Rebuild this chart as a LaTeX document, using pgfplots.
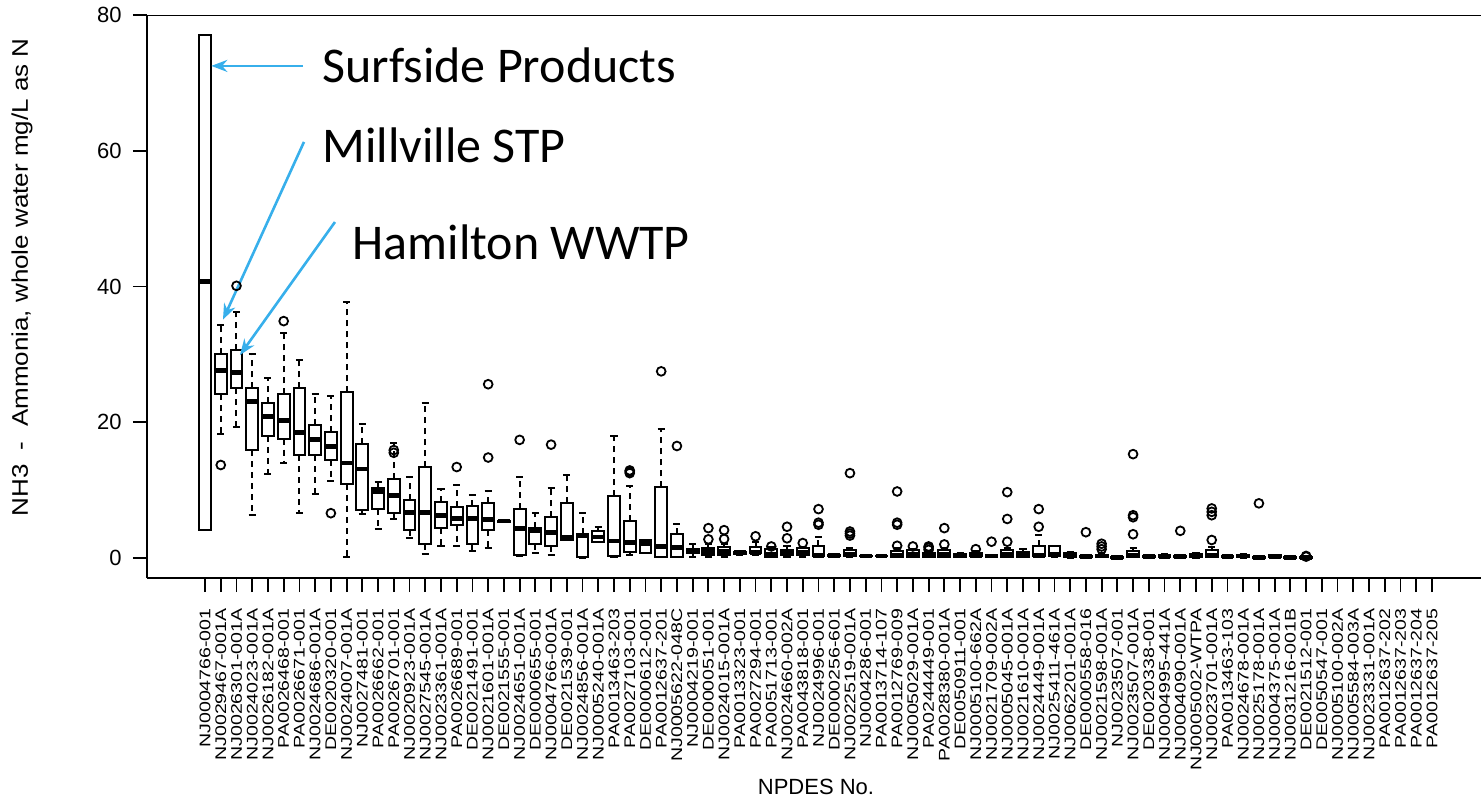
\documentclass[border=0pt]{standalone}
\usepackage{fontspec}
\setmainfont{Liberation Sans}
\newfontfamily\sfx[FakeStretch=1.27]{Liberation Sans}
\newfontfamily\sfy[FakeStretch=1.15]{Liberation Sans}
\newfontfamily\calib{Carlito}
\usepackage{pgfplots}
\pgfplotsset{compat=1.18}
\usepgfplotslibrary{statistics}
\usetikzlibrary{arrows.meta}
\definecolor{callout}{RGB}{55,175,235}

% draw position, lower whisker, lower quartile, median, upper quartile, upper whisker, outliers
\newcommand\bp[7]{\addplot[bx, boxplot prepared={draw position=#1, lower whisker=#2,
  lower quartile=#3, median=#4, upper quartile=#5, upper whisker=#6}] coordinates {#7};}

\begin{document}
\begin{tikzpicture}
\begin{axis}[
  scale only axis, width=667pt, height=281.5pt,
  xmin=-2.69, xmax=82.12, ymin=-2.95, ymax=80,
  axis x line*=bottom, axis y line*=left,
  axis line style={-, line width=1pt},
  tick align=outside, major tick length=7pt,
  tick style={black, line width=0.9pt},
  xtick={1,...,79},
  xticklabels={NJ0004766-001,NJ0029467-001A,NJ0026301-001A,NJ0024023-001A,NJ0026182-001A,
    PA0026468-001,PA0026671-001,NJ0024686-001A,DE0020320-001,NJ0024007-001A,
    NJ0027481-001,PA0026662-001,PA0026701-001,NJ0020923-001A,NJ0027545-001A,
    NJ0023361-001A,PA0026689-001,DE0021491-001,NJ0021601-001A,DE0021555-001,
    NJ0024651-001A,DE0000655-001,NJ0004766-001A,DE0021539-001,NJ0024856-001A,
    NJ0005240-001A,PA0013463-203,PA0027103-001,DE0000612-001,PA0012637-201,
    NJ0005622-048C,NJ0004219-001,DE0000051-001,NJ0024015-001A,PA0013323-001,
    PA0027294-001,PA0051713-001,NJ0024660-002A,PA0043818-001,NJ0024996-001,
    DE0000256-601,NJ0022519-001A,NJ0004286-001,PA0013714-107,PA0012769-009,
    NJ0005029-001A,PA0244449-001,PA0028380-001A,DE0050911-001,NJ0005100-662A,
    NJ0021709-002A,NJ0005045-001A,NJ0021610-001A,NJ0024449-001A,NJ0025411-461A,
    NJ0062201-001A,DE0000558-016,NJ0021598-001A,NJ0023507-001,NJ0023507-001A,
    DE0020338-001,NJ0004995-441A,NJ0004090-001A,NJ0005002-WTPA,NJ0023701-001A,
    PA0013463-103,NJ0024678-001A,NJ0025178-001A,NJ0004375-001A,NJ0031216-001B,
    DE0021512-001,DE0050547-001,NJ0005100-002A,NJ0005584-003A,NJ0023331-001A,
    PA0012637-202,PA0012637-203,PA0012637-204,PA0012637-205},
  xticklabel style={rotate=90, anchor=east, inner sep=0pt, font=\sfx\fontsize{7.7}{8}\selectfont},
  xticklabel shift=8pt,
  ytick={0,20,40,60,80},
  yticklabels={0,20,40,60,80},
  yticklabel style={anchor=east, inner sep=0pt, font=\fontsize{11}{12}\selectfont},
  yticklabel shift=5.5pt,
  xlabel={NPDES No.},
  ylabel={NH3\ \ -\ \ Ammonia, whole water mg/L as N},
  every axis x label/.style={at={(axis description cs:0.5015,0)}, yshift=-104.5pt,
    anchor=center, font=\fontsize{11}{12}\selectfont},
  every axis y label/.style={at={(axis description cs:-0.0937,0.534)}, rotate=90,
    anchor=center, font=\sfy\fontsize{11.3}{12}\selectfont},
  boxplot/draw direction=y,
  boxplot/box extend=0.75,
  boxplot/whisker extend=0.45,
  boxplot/every median/.style={line width=2.4pt},
  boxplot/draw/lower whisker/.code={%
    \draw[black, line width=1pt, dash pattern=on 3pt off 2.5pt]
      (boxplot cs:\pgfplotsboxplotvalue{lower quartile}) --
      (boxplot cs:\pgfplotsboxplotvalue{lower whisker});
    \draw[black, line width=1pt]
      (boxplot whisker cs:\pgfplotsboxplotvalue{lower whisker},0) --
      (boxplot whisker cs:\pgfplotsboxplotvalue{lower whisker},1);},
  boxplot/draw/upper whisker/.code={%
    \draw[black, line width=1pt, dash pattern=on 3pt off 2.5pt]
      (boxplot cs:\pgfplotsboxplotvalue{upper quartile}) --
      (boxplot cs:\pgfplotsboxplotvalue{upper whisker});
    \draw[black, line width=1pt]
      (boxplot whisker cs:\pgfplotsboxplotvalue{upper whisker},0) --
      (boxplot whisker cs:\pgfplotsboxplotvalue{upper whisker},1);},
  bx/.style={black, solid, line width=1pt, mark=o, mark size=2.2pt,
    mark options={solid, line width=0.9pt}},
]
\bp{1}{4.1}{4.1}{40.7}{77.0}{77.0}{}
\bp{2}{18.3}{24.1}{27.6}{30.05}{34.3}{(0,13.7)}
\bp{3}{19.3}{25.0}{27.3}{30.6}{36.3}{(0,40.1)}
\bp{4}{6.3}{15.9}{23.0}{25.0}{30.05}{}
\bp{5}{12.4}{18.0}{20.8}{22.9}{26.5}{}
\bp{6}{14.0}{17.6}{20.2}{24.1}{33.1}{(0,34.9)}
\bp{7}{6.6}{15.1}{18.5}{25.0}{29.1}{}
\bp{8}{9.4}{15.1}{17.4}{19.6}{24.1}{}
\bp{9}{11.4}{14.5}{16.4}{18.6}{23.9}{(0,6.6)}
\bp{10}{0.2}{10.9}{14.0}{24.4}{37.7}{}
\bp{11}{6.5}{7.0}{13.1}{16.8}{19.8}{}
\bp{12}{4.2}{7.2}{9.8}{10.3}{11.2}{}
\bp{13}{5.7}{6.6}{9.2}{11.6}{17.0}{(0,15.5) (0,15.9)}
\bp{14}{2.9}{4.1}{6.7}{8.5}{11.9}{}
\bp{15}{0.6}{2.1}{6.7}{13.4}{22.9}{}
\bp{16}{1.8}{4.4}{6.3}{8.3}{10.2}{}
\bp{17}{1.8}{4.9}{5.8}{7.5}{10.8}{(0,13.4)}
\bp{18}{1.1}{2.1}{5.8}{7.7}{9.3}{}
\bp{19}{1.5}{4.05}{5.7}{8.05}{9.85}{(0,14.8) (0,25.6)}
\bp{20}{5.3}{5.35}{5.45}{5.5}{5.6}{}
\bp{21}{0.3}{0.4}{4.4}{7.2}{12.0}{(0,17.4)}
\bp{22}{0.7}{2.1}{4.0}{4.4}{6.6}{}
\bp{23}{0.4}{1.7}{3.8}{6.0}{10.3}{(0,16.7)}
\bp{24}{2.65}{2.65}{3.05}{8.1}{12.2}{}
\bp{25}{0.05}{0.1}{3.3}{3.6}{6.6}{}
\bp{26}{2.4}{2.4}{3.1}{4.0}{4.6}{}
\bp{27}{0.2}{0.3}{2.5}{9.1}{17.9}{}
\bp{28}{0.4}{0.9}{2.3}{5.45}{10.6}{(0,12.5) (0,12.7) (0,12.9)}
\bp{29}{0.7}{0.7}{2.1}{2.65}{2.65}{}
\bp{30}{0.2}{0.2}{1.7}{10.4}{19.0}{(0,27.5)}
\bp{31}{0.2}{0.2}{1.6}{3.5}{5.0}{(0,16.5)}
\bp{32}{0.1}{0.7}{1.0}{1.3}{2.0}{}
\bp{33}{0.1}{0.4}{0.9}{1.5}{2.0}{(0,2.75) (0,4.4)}
\bp{34}{0.1}{0.4}{0.9}{1.6}{2.0}{(0,2.8) (0,4.1)}
\bp{35}{0.5}{0.6}{0.8}{0.9}{1.1}{}
\bp{36}{0.5}{0.7}{0.75}{1.6}{2.4}{(0,3.2)}
\bp{37}{0.1}{0.2}{0.6}{1.3}{1.6}{(0,1.7)}
\bp{38}{0.2}{0.4}{0.8}{1.2}{1.7}{(0,2.9) (0,4.6)}
\bp{39}{0.2}{0.4}{0.8}{1.4}{1.6}{(0,2.2)}
\bp{40}{0.1}{0.3}{0.4}{1.8}{3.1}{(0,4.9) (0,5.2) (0,7.2)}
\bp{41}{0.2}{0.3}{0.4}{0.5}{0.6}{}
\bp{42}{0.2}{0.3}{0.6}{1.2}{1.5}{(0,3.3) (0,3.6) (0,3.9) (0,12.5)}
\bp{43}{0.2}{0.25}{0.3}{0.35}{0.4}{}
\bp{44}{0.2}{0.25}{0.3}{0.35}{0.4}{}
\bp{45}{0.1}{0.2}{0.4}{1.0}{1.4}{(0,1.8) (0,4.9) (0,5.2) (0,9.8)}
\bp{46}{0.1}{0.2}{0.6}{1.2}{1.3}{(0,1.7)}
\bp{47}{0.1}{0.2}{0.4}{0.8}{1.0}{(0,1.2) (0,1.5) (0,1.7)}
\bp{48}{0.1}{0.2}{0.5}{1.2}{1.4}{(0,2.0) (0,4.4)}
\bp{49}{0.1}{0.2}{0.3}{0.6}{0.7}{}
\bp{50}{0.1}{0.3}{0.4}{0.8}{1.0}{(0,1.3)}
\bp{51}{0.1}{0.2}{0.3}{0.4}{0.5}{(0,2.4)}
\bp{52}{0.1}{0.2}{0.5}{1.2}{1.5}{(0,2.4) (0,5.75) (0,9.7)}
\bp{53}{0.1}{0.2}{0.5}{0.9}{1.3}{}
\bp{54}{0.1}{0.3}{0.4}{1.8}{3.4}{(0,4.6) (0,7.2)}
\bp{55}{0.1}{0.3}{0.5}{1.8}{1.8}{}
\bp{56}{0.0}{0.1}{0.3}{0.7}{0.9}{}
\bp{57}{0.1}{0.15}{0.2}{0.3}{0.4}{(0,3.8)}
\bp{58}{0.1}{0.2}{0.3}{0.5}{0.8}{(0,1.3) (0,1.7) (0,2.1)}
\bp{59}{0.0}{0.05}{0.1}{0.15}{0.2}{}
\bp{60}{0.1}{0.2}{0.4}{1.0}{1.4}{(0,3.5) (0,6.0) (0,6.3) (0,15.3)}
\bp{61}{0.1}{0.15}{0.2}{0.25}{0.3}{}
\bp{62}{0.0}{0.1}{0.2}{0.5}{0.6}{}
\bp{63}{0.1}{0.15}{0.2}{0.25}{0.3}{(0,4.0)}
\bp{64}{0.0}{0.1}{0.3}{0.6}{0.7}{}
\bp{65}{0.1}{0.2}{0.4}{1.2}{1.6}{(0,2.65) (0,6.3) (0,6.8) (0,7.3)}
\bp{66}{0.1}{0.15}{0.2}{0.25}{0.3}{}
\bp{67}{0.0}{0.1}{0.3}{0.5}{0.6}{}
\bp{68}{0.0}{0.05}{0.1}{0.15}{0.2}{(0,8.05)}
\bp{69}{0.0}{0.1}{0.2}{0.4}{0.5}{}
\bp{70}{0.0}{0.05}{0.1}{0.15}{0.2}{}
\bp{71}{0.0}{0.0}{0.05}{0.1}{0.1}{(0,0.2) (0,0.3)}
\draw[line width=1pt] (rel axis cs:0,1) -- (rel axis cs:1,1);
% callouts
\begin{scope}[callout, line width=1.3pt, -{Stealth[length=8pt,width=6pt]}]
  \draw (axis cs:7.23,72.5) -- (axis cs:1.40,72.5);
  \draw (axis cs:7.29,61.3) -- (axis cs:2.14,35.1);
  \draw (axis cs:9.26,49.5) -- (axis cs:3.22,29.9);
\end{scope}
\begin{scope}[every node/.style={anchor=base west, inner sep=0pt,
    font=\calib\fontsize{25}{30}\selectfont}]
  \node at (axis cs:8.44,70.1) {Surfside Products};
  \node at (axis cs:8.44,58.2) {Millville STP};
  \node at (axis cs:10.35,44.05) {Hamilton WWTP};
\end{scope}
\end{axis}
\pgfresetboundingbox
\useasboundingbox (-73.5pt,-110pt) rectangle (667pt,289pt);
\end{tikzpicture}
\end{document}
